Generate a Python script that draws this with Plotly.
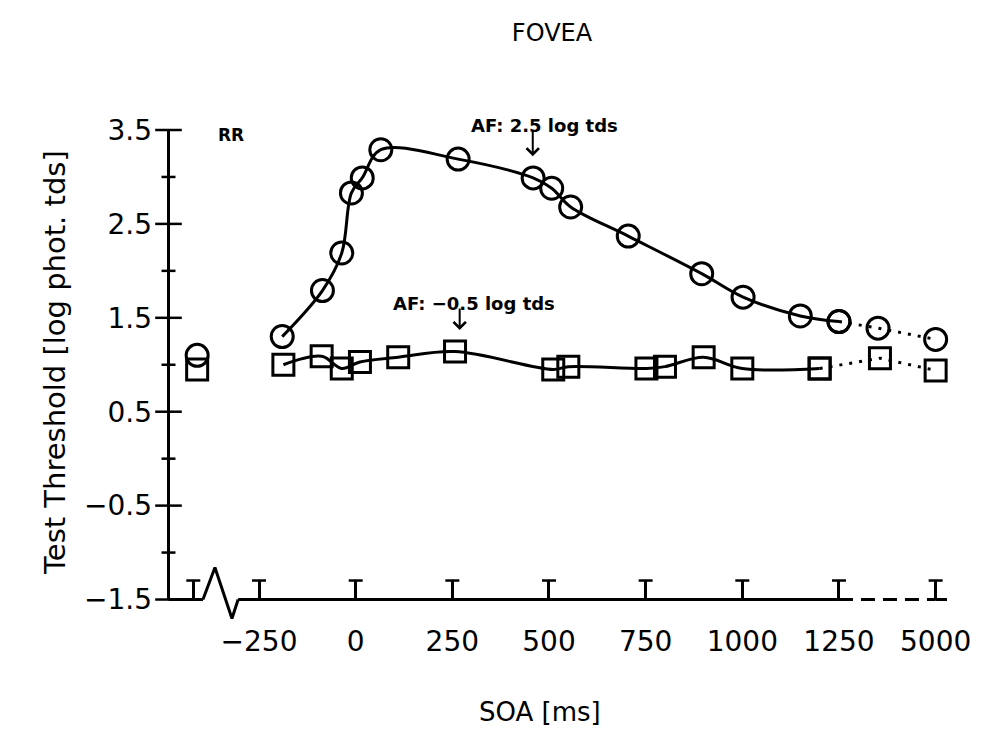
import plotly.graph_objects as go

# ---------------- data (x = position on the broken SOA axis, ms; 1500 sits at the "5000" label) ----
x_tick_vals = [-420, -250, 0, 250, 500, 750, 1000, 1250, 1500]
x_tick_text = ["", "−250", "0", "250", "500", "750", "1000", "1250", "5000"]
y_tick_vals = [-1.5, -0.5, 0.5, 1.5, 2.5, 3.5]
y_tick_text = ["−1.5", "−0.5", "0.5", "1.5", "2.5", "3.5"]
y_minor_vals = [-1, 0, 1, 2, 3]

# AF: 2.5 log tds  (circles)
circle_x = [-190, -86, -36, -11, 17, 65, 265, 459, 507, 556, 705, 895, 1002, 1150, 1250]
circle_y = [1.30, 1.79, 2.19, 2.83, 2.99, 3.29, 3.19, 2.99, 2.88, 2.68, 2.37, 1.97, 1.72, 1.52, 1.46]
circle_dot_x = [1250, 1351, 1500]
circle_dot_y = [1.46, 1.39, 1.27]

# AF: -0.5 log tds  (squares)
square_x = [-187, -88, -36, 11, 110, 257, 511, 550, 752, 800, 900, 1000, 1200]
square_y = [1.00, 1.09, 0.96, 1.03, 1.08, 1.14, 0.95, 0.98, 0.96, 0.98, 1.08, 0.96, 0.96]
square_dot_x = [1200, 1356, 1500]
square_dot_y = [0.96, 1.07, 0.94]

# RR (reference) values
rr_x = [-410]
rr_circle_y = [1.10]
rr_square_y = [0.95]

# ---------------- layout constants ----------------
W, H = 987, 736
M_L, M_R, M_T, M_B = 167, 39, 130, 113
X_RANGE = [-488, 1532]
Y_MIN_AX, Y_MAX = -1.5, 3.5
Y_RANGE = [-1.75, Y_MAX]
PLOT_W = W - M_L - M_R
PLOT_H = H - M_T - M_B
ppu_y = PLOT_H / (Y_RANGE[1] - Y_RANGE[0])
ppu_x = PLOT_W / (X_RANGE[1] - X_RANGE[0])
TICK_LEN = 19
cap_y = Y_MIN_AX + TICK_LEN / ppu_y
BREAK_X = [-395, -364, -320, -304]          # zig-zag break on the axis
BREAK_DY = [0, 32, -19, 0]                  # pixel offsets of the zig-zag
x_axis_left = X_RANGE[0] + 1.5 / ppu_x


def ypaper(v):
    return (v - Y_RANGE[0]) / (Y_RANGE[1] - Y_RANGE[0])


def xpaper(v):
    return (v - X_RANGE[0]) / (X_RANGE[1] - X_RANGE[0])


FONT = "DejaVu Sans"
BLACK = "black"

fig = go.Figure()

# left axis line as a trace
fig.add_trace(go.Scatter(x=[x_axis_left, x_axis_left], y=[Y_MIN_AX, Y_MAX], mode="lines",
                         line=dict(color=BLACK, width=3), hoverinfo="skip", showlegend=False))
# crossing y ticks (major / minor)
fig.add_trace(go.Scatter(x=[x_axis_left] * len(y_tick_vals), y=y_tick_vals, mode="markers",
                         marker=dict(symbol="line-ew", size=19, line=dict(color=BLACK, width=2.5)),
                         cliponaxis=False, hoverinfo="skip", showlegend=False))
fig.add_trace(go.Scatter(x=[x_axis_left] * len(y_minor_vals), y=y_minor_vals, mode="markers",
                         marker=dict(symbol="line-ew", size=10, line=dict(color=BLACK, width=2.5)),
                         cliponaxis=False, hoverinfo="skip", showlegend=False))
# zig-zag break mark on the x axis
fig.add_trace(go.Scatter(x=BREAK_X, y=[Y_MIN_AX + d / ppu_y for d in BREAK_DY], mode="lines",
                         line=dict(color=BLACK, width=3), hoverinfo="skip", showlegend=False))
# T caps on x ticks
fig.add_trace(go.Scatter(x=x_tick_vals, y=[cap_y] * len(x_tick_vals), mode="markers",
                         marker=dict(symbol="line-ew", size=10, line=dict(color=BLACK, width=2.5)),
                         cliponaxis=False, hoverinfo="skip", showlegend=False))

mk_c = dict(symbol="circle-open", size=22, color=BLACK, line=dict(width=3))
mk_s = dict(symbol="square-open", size=21, color=BLACK, line=dict(width=3))
fig.add_trace(go.Scatter(x=circle_x, y=circle_y, mode="lines+markers",
                         line=dict(color=BLACK, width=3, shape="spline", smoothing=1.0),
                         marker=mk_c, cliponaxis=False, showlegend=False))
fig.add_trace(go.Scatter(x=circle_dot_x, y=circle_dot_y, mode="lines+markers",
                         line=dict(color=BLACK, width=3, dash="3px,7px"),
                         marker=mk_c, cliponaxis=False, showlegend=False))
fig.add_trace(go.Scatter(x=square_x, y=square_y, mode="lines+markers",
                         line=dict(color=BLACK, width=3, shape="spline", smoothing=1.0),
                         marker=mk_s, cliponaxis=False, showlegend=False))
fig.add_trace(go.Scatter(x=square_dot_x, y=square_dot_y, mode="lines+markers",
                         line=dict(color=BLACK, width=3, dash="3px,7px"),
                         marker=mk_s, cliponaxis=False, showlegend=False))
fig.add_trace(go.Scatter(x=rr_x, y=rr_circle_y, mode="markers", marker=mk_c,
                         cliponaxis=False, showlegend=False))
fig.add_trace(go.Scatter(x=rr_x, y=rr_square_y, mode="markers", marker=mk_s,
                         cliponaxis=False, showlegend=False))

# axis lines (shapes)
axis_line = dict(color=BLACK, width=3)
shapes = [
    dict(type="line", xref="x", yref="y", x0=x_axis_left, x1=x_axis_left, y0=Y_MIN_AX, y1=Y_MAX,
         line=axis_line, layer="above"),
    dict(type="line", xref="x", yref="y", x0=x_axis_left, x1=BREAK_X[0], y0=Y_MIN_AX, y1=Y_MIN_AX,
         line=axis_line, layer="above"),
    dict(type="line", xref="x", yref="y", x0=BREAK_X[-1], x1=x_tick_vals[-2], y0=Y_MIN_AX, y1=Y_MIN_AX,
         line=axis_line, layer="above"),
    dict(type="line", xref="x", yref="y", x0=x_tick_vals[-2], x1=x_tick_vals[-1], y0=Y_MIN_AX, y1=Y_MIN_AX,
         line=dict(color=BLACK, width=3, dash="14px,8px"), layer="above"),
    dict(type="line", xref="x", yref="y", x0=x_tick_vals[-1], x1=X_RANGE[1] - 1 / ppu_x, y0=Y_MIN_AX, y1=Y_MIN_AX,
         line=axis_line, layer="above"),
]

tickfont = dict(family=FONT, size=28, color=BLACK)
annfont = dict(family=FONT, size=18, color=BLACK, weight="bold")
fig.update_layout(
    width=W, height=H, margin=dict(l=M_L, r=M_R, t=M_T, b=M_B),
    paper_bgcolor="white", plot_bgcolor="white",
    title=dict(text="FOVEA", x=552 / W, y=1 - 33 / H, xanchor="center", yanchor="middle",
               font=dict(family=FONT, size=24, color=BLACK)),
    xaxis=dict(range=X_RANGE, tickmode="array", tickvals=x_tick_vals, ticktext=x_tick_text,
               ticks="inside", ticklen=TICK_LEN, tickwidth=2.5, tickcolor=BLACK,
               showline=False, showgrid=False, zeroline=False, tickfont=tickfont,
               anchor="free", position=ypaper(Y_MIN_AX), ticklabelstandoff=22),
    yaxis=dict(range=Y_RANGE, tickmode="array", tickvals=y_tick_vals, ticktext=y_tick_text,
               ticks="", showline=False, showgrid=False, zeroline=False, tickfont=tickfont,
               ticklabelstandoff=14),
    shapes=shapes,
    annotations=[
        dict(text="RR", x=xpaper(-362), y=ypaper(3.57), xref="paper", yref="paper", showarrow=False,
             font=dict(family=FONT, size=17, color=BLACK, weight="bold")),
        dict(text="AF: 2.5 log tds", x=xpaper(488), y=ypaper(3.68), xref="paper", yref="paper",
             showarrow=False, font=annfont),
        dict(text="AF: −0.5 log tds", x=xpaper(307), y=ypaper(1.79), xref="paper", yref="paper",
             showarrow=False, font=annfont),
        dict(text="", x=458, y=3.22, xref="x", yref="y", showarrow=True, ax=0, ay=-28,
             arrowhead=4, arrowsize=1.2, arrowwidth=2, arrowcolor=BLACK),
        dict(text="", x=269, y=1.37, xref="x", yref="y", showarrow=True, ax=0, ay=-23,
             arrowhead=4, arrowsize=1.2, arrowwidth=2, arrowcolor=BLACK),
        dict(text="SOA [ms]", x=(540 - M_L) / PLOT_W, y=1 - (712 - M_T) / PLOT_H,
             xref="paper", yref="paper", showarrow=False, yanchor="middle",
             font=dict(family=FONT, size=26, color=BLACK)),
        dict(text="Test Threshold [log phot. tds]", x=(36 - M_L) / PLOT_W, y=1 - (363 - M_T) / PLOT_H,
             xref="paper", yref="paper", showarrow=False, textangle=-90,
             font=dict(family=FONT, size=29, color=BLACK)),
    ],
)

fig.write_html("out.html")
